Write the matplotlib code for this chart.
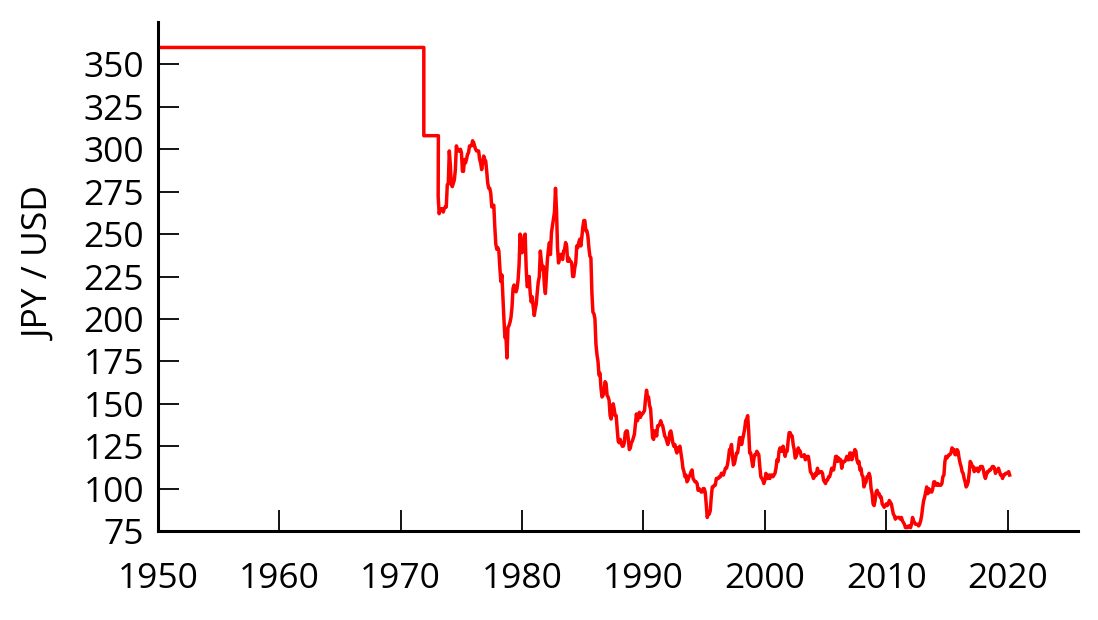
import numpy as np
import matplotlib
matplotlib.use("Agg")
import matplotlib.pyplot as plt

plt.rcParams["font.family"] = ["Open Sans", "DejaVu Sans"]

# Fixed-rate period (Bretton Woods, then Smithsonian)
peg_years = [1950.0, 1971.9, 1971.9, 1973.1]
peg_rates = [360, 360, 308, 308]

# Monthly JPY per USD, starting Feb 1973
rates_1970s = [272, 262, 265, 264, 265, 263, 265, 266, 266, 279, 280,
               299, 291, 279, 278, 280, 282, 288, 302, 300, 299, 299, 300,
               298, 287, 287, 294, 292, 294, 297, 298, 302, 302, 302, 305,
               304, 302, 300, 299, 299, 299, 294, 292, 288, 292, 296, 294,
               293, 287, 280, 277, 277, 274, 266, 267, 267, 254, 244, 241,
               242, 240, 230, 222, 226, 213, 200, 189, 190, 177, 195, 196,
               198, 201, 207, 218, 220, 217, 216, 218, 223, 232, 250, 241]
rates_1980s = [239, 244, 249, 250, 230, 219, 220, 225, 215, 210, 213, 207,
               202, 206, 209, 216, 222, 225, 240, 234, 229, 231, 220, 215,
               225, 235, 241, 245, 238, 251, 255, 259, 263, 277, 264, 242,
               233, 236, 238, 238, 235, 240, 241, 245, 243, 234, 236, 234,
               234, 233, 225, 225, 230, 233, 243, 242, 245, 247, 243, 248,
               254, 258, 258, 252, 252, 249, 242, 237, 236, 215, 204, 203,
               200, 185, 179, 175, 167, 168, 159, 154, 155, 157, 163, 162,
               155, 154, 152, 143, 141, 145, 150, 147, 143, 143, 135, 128,
               127, 129, 127, 125, 125, 127, 133, 134, 134, 129, 123, 124,
               127, 128, 130, 132, 138, 144, 140, 142, 145, 142, 144, 144]
rates_1990s = [145, 146, 153, 158, 154, 154, 149, 147, 138, 130, 129, 134,
               134, 131, 137, 137, 138, 140, 138, 137, 134, 131, 130, 128,
               126, 128, 133, 134, 131, 127, 125, 126, 123, 121, 124, 124,
               125, 121, 117, 112, 110, 107, 108, 104, 105, 107, 108, 110,
               111, 106, 105, 104, 104, 103, 99, 100, 99, 98, 98, 100,
               100, 98, 91, 83, 85, 85, 87, 95, 101, 101, 102, 102,
               106, 106, 106, 107, 107, 109, 109, 108, 110, 112, 112, 114,
               118, 123, 123, 126, 119, 114, 115, 118, 121, 121, 125, 130,
               130, 126, 129, 132, 135, 140, 141, 143, 134, 121, 121, 117,
               113, 117, 120, 120, 122, 121, 120, 113, 107, 106, 105, 103]
rates_2000s = [105, 109, 106, 106, 108, 106, 108, 108, 107, 108, 109, 112,
               117, 116, 122, 124, 122, 122, 125, 122, 119, 122, 122, 128,
               133, 133, 131, 131, 126, 123, 118, 119, 121, 124, 122, 122,
               119, 119, 119, 120, 117, 118, 119, 119, 115, 110, 109, 108,
               106, 107, 109, 108, 112, 109, 110, 110, 110, 109, 105, 104,
               103, 105, 105, 107, 107, 109, 112, 111, 111, 115, 119, 119,
               116, 118, 117, 117, 112, 115, 116, 116, 117, 119, 117, 117,
               121, 121, 117, 119, 121, 123, 122, 117, 115, 116, 111, 112,
               108, 107, 101, 103, 104, 107, 107, 109, 107, 100, 97, 91,
               90, 93, 98, 99, 97, 97, 95, 95, 91, 90, 89, 90]
rates_2010s = [91, 90, 91, 93, 92, 91, 88, 85, 84, 82, 83, 83,
               83, 83, 82, 83, 81, 80, 79, 77, 77, 77, 78, 78,
               77, 79, 83, 81, 80, 79, 79, 79, 78, 79, 81, 84,
               89, 93, 95, 98, 101, 97, 100, 98, 99, 98, 100, 104,
               104, 102, 102, 103, 102, 102, 102, 103, 107, 108, 116, 119,
               118, 119, 120, 120, 121, 124, 123, 123, 120, 120, 123, 122,
               118, 115, 113, 110, 109, 106, 104, 101, 102, 104, 109, 116,
               115, 113, 113, 110, 112, 111, 112, 110, 111, 113, 113, 113,
               111, 108, 106, 108, 110, 110, 111, 111, 112, 113, 113, 112,
               109, 110, 111, 112, 110, 108, 108, 106, 108, 108, 109, 109,
               109, 110, 108]

float_rates = rates_1970s + rates_1980s + rates_1990s + rates_2000s + rates_2010s
float_years = 1973 + 1 / 12 + np.arange(len(float_rates)) / 12

years = np.concatenate([peg_years, float_years])
rates = np.concatenate([peg_rates, float_rates])

fig = plt.figure(figsize=(10.98, 6.2), dpi=100)
ax = fig.add_axes([0.1439, 0.1435, 0.8379, 0.821])
ax.plot(years, rates, color="#ff0000", linewidth=2.5)

ax.set_xlim(1950, 2025.8)
ax.set_ylim(75, 375)
ax.set_xticks(range(1950, 2021, 10))
ax.set_yticks(range(75, 351, 25))
ax.set_ylabel("JPY / USD", fontsize=25.5)
ax.yaxis.set_label_coords(-0.109, 0.525)

for side in ["top", "right"]:
    ax.spines[side].set_visible(False)
for side in ["left", "bottom"]:
    ax.spines[side].set_linewidth(2.2)

ax.tick_params(axis="both", direction="in", length=15, width=1.3, labelsize=25.5)
ax.tick_params(axis="x", pad=22)
ax.tick_params(axis="y", pad=10)

fig.savefig("out.png", dpi=100)
